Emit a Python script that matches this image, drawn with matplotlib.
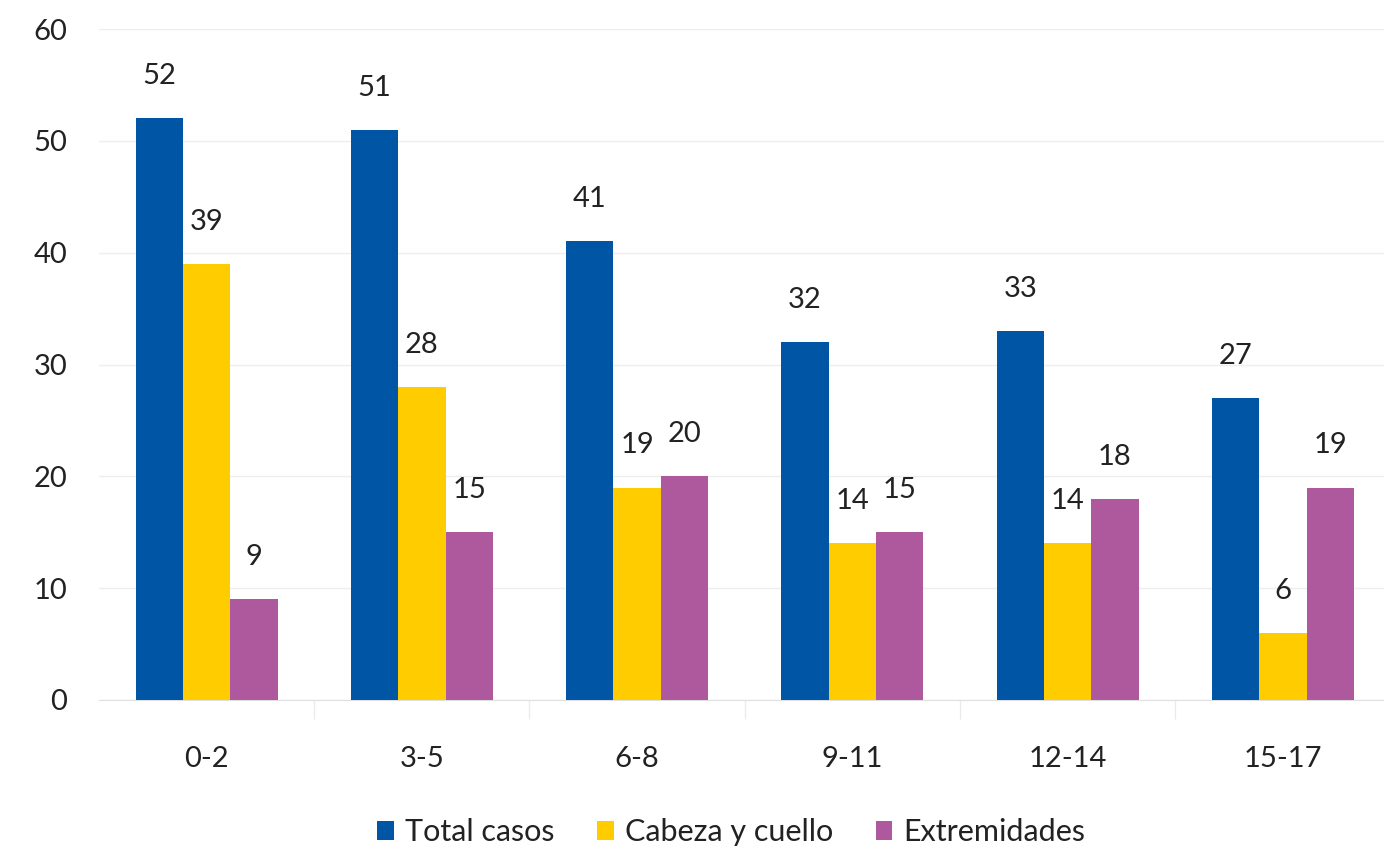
import matplotlib
matplotlib.use("Agg")
import matplotlib.pyplot as plt
import numpy as np

categories = ["0-2", "3-5", "6-8", "9-11", "12-14", "15-17"]
series_names = ["Total casos", "Cabeza y cuello", "Extremidades"]
total_casos = [52, 51, 41, 32, 33, 27]
cabeza_cuello = [39, 28, 19, 14, 14, 6]
extremidades = [9, 15, 20, 15, 18, 19]
colors = ["#0055A5", "#FFCC00", "#AE589E"]
y_ticks = [0, 10, 20, 30, 40, 50, 60]

plt.rcParams['font.family'] = ['Lato', 'DejaVu Sans']
FS = 21

fig = plt.figure(figsize=(13.84, 8.52), dpi=100)
ax = fig.add_axes([99/1384, 152/852, (1384-99)/1384, 671/852])

x = np.arange(len(categories))
w = 0.22
data = [total_casos, cabeza_cuello, extremidades]
for i, (vals, name, c) in enumerate(zip(data, series_names, colors)):
    pos = x + (i - 1) * w
    ax.bar(pos, vals, width=w, color=c, label=name, zorder=3)
    for p, v in zip(pos, vals):
        ax.text(p, v + 2.6, str(v), ha='center', va='bottom', fontsize=FS, color='#222222')

ax.set_ylim(0, 60)
ax.set_xlim(-0.5, 5.47)
ax.set_yticks(y_ticks)
ax.set_yticklabels([str(t) for t in y_ticks], fontsize=FS, color='#222222')
ax.set_xticks(x)
ax.set_xticklabels(categories, fontsize=FS, color='#222222')
ax.tick_params(axis='y', length=0, pad=23)
ax.tick_params(axis='x', length=0, pad=33)
ax.set_xticks(x[:-1] + 0.5, minor=True)
ax.tick_params(axis='x', which='minor', length=14, color='#ebebeb', width=1)
ax.grid(axis='y', color='#eeeeee', linewidth=1, zorder=0)
for s in ['top', 'right', 'left']:
    ax.spines[s].set_visible(False)
ax.spines['bottom'].set_color('#e0e0e0')

ax.legend(loc='upper center', bbox_to_anchor=(0.492, -0.135), ncol=3, frameon=False,
          fontsize=FS + 1, handlelength=0.55, handleheight=0.6, handletextpad=0.35,
          columnspacing=1.4, labelcolor='#222222')

fig.savefig("out.png", dpi=100)
